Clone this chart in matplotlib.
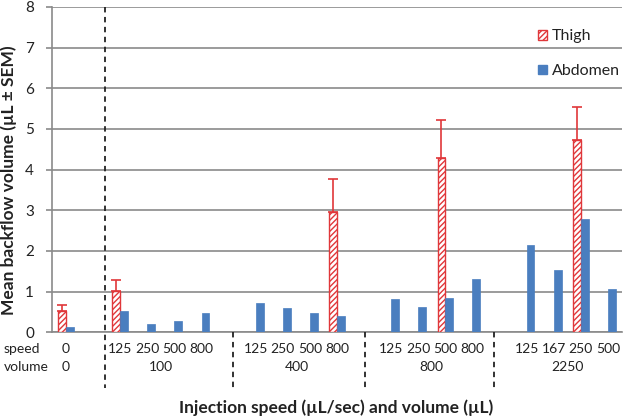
import numpy as np
import matplotlib
matplotlib.use("Agg")
import matplotlib.pyplot as plt
from matplotlib.patches import Patch
import matplotlib.transforms as mtransforms

plt.rcParams['font.family'] = ['Lato', 'DejaVu Sans']
plt.rcParams['hatch.linewidth'] = 1.0

# ---- data ----
speeds = ['0', '125', '250', '500', '800', '125', '250', '500', '800',
          '125', '250', '500', '800', '125', '167', '250', '500']
slots = [0, 2, 3, 4, 5, 7, 8, 9, 10, 12, 13, 14, 15, 17, 18, 19, 20]
volumes = ['0', '100', '400', '800', '2250']
volume_slots = [0, 3.5, 8.5, 13.5, 18.5]
nan = np.nan
thigh = [0.53, 1.02, nan, nan, nan, nan, nan, nan, 2.96,
         nan, nan, 4.28, nan, nan, nan, 4.74, nan]
thigh_sem = [0.15, 0.26, nan, nan, nan, nan, nan, nan, 0.80,
             nan, nan, 0.95, nan, nan, nan, 0.79, nan]
abdomen = [0.14, 0.53, 0.20, 0.27, 0.47, 0.72, 0.59, 0.47, 0.40,
           0.81, 0.61, 0.85, 1.30, 2.15, 1.53, 2.79, 1.07]
separators = [1.45, 6.15, 11.05, 15.8]

RED = '#e0373a'
BLUE = '#4a7ebf'
GRAY = '#8a8a8a'

fig = plt.figure(figsize=(6.28, 4.2), dpi=100)
ax = fig.add_axes([52/628, 1-332.3/420, 570/628, (332.3-7)/420])

x = np.array(slots, dtype=float)
w = 0.29
th = np.array(thigh)
sem = np.array(thigh_sem)
ax.bar(x - w/2, th, width=w, color='white', edgecolor=RED, hatch='//////',
       linewidth=1.0, zorder=3)
mask = ~np.isnan(th)
ax.errorbar(x[mask] - w/2, th[mask],
            yerr=[np.zeros(mask.sum()), sem[mask]],
            fmt='none', ecolor=RED, elinewidth=1.2, capsize=3.5, capthick=1.2,
            zorder=4)
ax.bar(x + w/2, abdomen, width=w, color=BLUE, edgecolor=BLUE, linewidth=0.5,
       zorder=3)

ax.set_xlim(-0.52, 20.52)
ax.set_ylim(0, 8)
ax.set_yticks(range(0, 9))
ax.grid(axis='y', color=GRAY, linewidth=1.2, zorder=0)
ax.set_axisbelow(True)
ax.set_xticks([])
for s in ['top', 'right']:
    ax.spines[s].set_visible(False)
for s in ['left', 'bottom']:
    ax.spines[s].set_color(GRAY)
    ax.spines[s].set_linewidth(1.2)
ax.tick_params(axis='y', length=4, width=1.2, color=GRAY, pad=9,
               labelsize=11, labelcolor='#222222')

trans = mtransforms.blended_transform_factory(ax.transData, ax.transAxes)
ybot = -(388-332.3)/325.3
# separator dashed lines
ax.plot([separators[0]]*2, [1.0, ybot], transform=trans, color='#222222',
        linestyle=(0, (3, 2.5)), linewidth=1.3, clip_on=False, zorder=5)
for sx in separators[1:]:
    ax.plot([sx]*2, [0.0, ybot], transform=trans, color='#222222',
            linestyle=(0, (3, 2.5)), linewidth=1.3, clip_on=False, zorder=5)

y_speed = -(349-332.3)/325.3
y_vol = -(366.7-332.3)/325.3
for sx, lab in zip(slots, speeds):
    ax.text(sx, y_speed, lab, transform=trans, ha='center', va='center',
            fontsize=10, color='#222222')
for vx, lab in zip(volume_slots, volumes):
    ax.text(vx, y_vol, lab, transform=trans, ha='center', va='center',
            fontsize=10, color='#222222')
fig.text(4/628, 1-349/420, 'speed', ha='left', va='center', fontsize=10,
         color='#222222')
fig.text(4/628, 1-366.7/420, 'volume', ha='left', va='center', fontsize=10,
         color='#222222')

fig.text(336/628, 1-408/420, 'Injection speed (\u00b5L/sec) and volume (\u00b5L)',
         ha='center', va='center', fontsize=12.5, fontweight='bold',
         color='#222222')
fig.text(9/628, 1-180/420, 'Mean backflow volume (\u00b5L \u00b1 SEM)',
         ha='center', va='center', rotation=90, fontsize=12.5,
         fontweight='bold', color='#222222')

handles = [Patch(facecolor='white', edgecolor=RED, hatch='//////', linewidth=1.0),
           Patch(facecolor=BLUE, edgecolor=BLUE)]
fig.legend(handles, ['Thigh', 'Abdomen'], loc='upper left',
           bbox_to_anchor=(524/628, 1-15/420), frameon=False, fontsize=11.5,
           handlelength=0.55, handleheight=0.55, handletextpad=0.3,
           labelspacing=1.3, labelcolor='#222222')

fig.savefig('out.png', dpi=100)
